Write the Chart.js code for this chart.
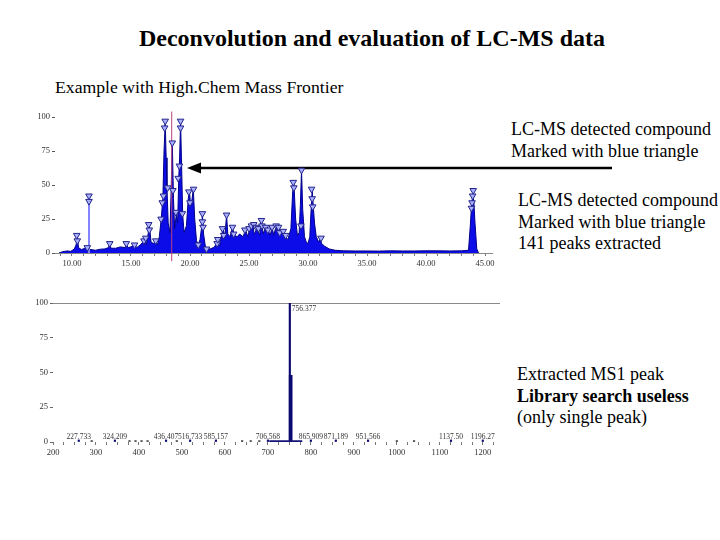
<!DOCTYPE html>
<html>
<head>
<meta charset="utf-8">
<script src="https://cdn.jsdelivr.net/npm/chart.js@4.4.0/dist/chart.umd.min.js"></script>
<style>
  body { margin: 0; background: #fff; width: 720px; height: 540px; position: relative; overflow: hidden;
         font-family: "Liberation Serif", "Times New Roman", serif; }
  .t { position: absolute; white-space: nowrap; color: #000; }
  canvas { position: absolute; }
</style>
</head>
<body>
<div class="t" style="left:0;width:744px;text-align:center;top:25px;font-size:24px;font-weight:bold;line-height:26px">Deconvolution and evaluation of LC-MS data</div>
<div class="t" style="left:55px;top:77px;font-size:17.7px;line-height:21px">Example with High.Chem Mass Frontier</div>
<div class="t" style="left:511px;top:118px;font-size:18px;line-height:22px">LC-MS detected compound<br>Marked with blue triangle</div>
<div class="t" style="left:518px;top:190px;font-size:18px;line-height:21.5px">LC-MS detected compound<br>Marked with blue triangle<br>141 peaks extracted</div>
<div class="t" style="left:517px;top:364px;font-size:18px;line-height:21.5px">Extracted MS1 peak<br><b>Library search useless</b><br>(only single peak)</div>

<svg width="720" height="540" style="position:absolute;left:0;top:0">
  <line x1="199" y1="168" x2="612" y2="168" stroke="#000" stroke-width="2.5"/>
  <polygon points="187,168 201,162.5 201,173.5" fill="#000"/>
</svg>

<canvas id="chrom" width="470" height="180" style="left:30px;top:100px"></canvas>
<canvas id="spec" width="480" height="175" style="left:30px;top:290px"></canvas>

<script>
// chromatogram (retention time in min, relative intensity %)
const chromTime = [
  8.9, 9.2, 9.6, 9.9, 10.2, 10.35, 10.45, 10.55, 10.8, 11.1,
  11.3, 11.38, 11.6, 12.0, 12.4, 12.8, 13.1, 13.2, 13.3, 13.7,
  14.1, 14.5, 14.6, 14.75, 15.0, 15.3, 15.5, 15.8, 16.0, 16.15,
  16.3, 16.45, 16.55, 16.7, 16.9, 17.1, 17.25, 17.4, 17.55, 17.7,
  17.8, 17.9, 17.98, 18.05, 18.15, 18.3, 18.4, 18.5, 18.6, 18.7,
  18.85, 18.95, 19.05, 19.12, 19.2, 19.3, 19.38, 19.5, 19.7, 19.85,
  19.95, 20.05, 20.15, 20.28, 20.4, 20.55, 20.7, 20.85, 21.0, 21.05,
  21.15, 21.3, 21.45, 21.7, 22.0, 22.3, 22.5, 22.65, 22.8, 22.95,
  23.1, 23.2, 23.4, 23.6, 23.75, 24.0, 24.2, 24.5, 24.7, 24.9,
  25.1, 25.3, 25.45, 25.7, 25.9, 26.05, 26.2, 26.4, 26.6, 26.8,
  26.95, 27.1, 27.3, 27.5, 27.65, 27.85, 28.05, 28.3, 28.55, 28.7,
  28.8, 28.95, 29.1, 29.25, 29.35, 29.45, 29.55, 29.7, 29.85, 30.0,
  30.15, 30.25, 30.35, 30.45, 30.55, 30.7, 30.9, 31.05, 31.15, 31.4,
  31.8, 32.3, 33, 34, 35, 36, 37, 38, 39, 40,
  41, 42, 43, 43.6, 43.75, 43.85, 43.95, 44.05, 44.15, 44.3,
  44.45
];
const chromInt = [
  0, 1.0, 1.5, 1.2, 3, 6, 12, 4, 2.5, 3.5,
  5, 2.5, 2.5, 2.0, 2.8, 3.0, 4, 7, 3.5, 3.5,
  4.5, 4, 6.5, 4, 4.5, 6, 4, 6, 8, 10,
  6, 14, 21, 8, 7, 9, 6, 12, 24, 40,
  75, 96, 70, 48, 22, 15, 45, 81, 40, 18,
  29, 22, 56, 70, 97, 60, 28, 15, 20, 40,
  46, 35, 38, 47, 25, 9, 6, 10, 20, 29,
  14, 5, 3, 3, 4, 7, 5, 12, 18, 12,
  28, 14, 12, 19, 13, 12, 14, 12, 17, 12,
  19, 21, 14, 18, 13, 24, 14, 19, 17, 13,
  19, 13, 20, 19, 14, 16, 12, 10, 18, 45,
  52, 25, 13, 15, 35, 61, 32, 12, 8, 7,
  12, 30, 46, 34, 22, 12, 8, 11, 7, 5,
  3, 2, 1.6, 1.5, 1.5, 1.4, 1.6, 1.5, 1.5, 1.6,
  1.6, 1.5, 1.6, 2, 20, 34, 42, 38, 22, 3,
  0
];
// narrow isolated peak drawn in lighter blue
const spikeTime = [11.44, 11.44];
const spikeInt = [0, 38];
// selected scan cursor
const cursorTime = [18.45, 18.45];
const cursorInt = [-6, 104];
// detected compounds (blue triangles)
const markTime = [
  10.4, 10.45, 11.3, 11.44, 11.44, 13.2, 14.6, 15.3, 16.1, 16.25,
  16.5, 16.55, 17.1, 17.55, 17.65, 17.75, 17.85, 17.9, 18.1, 18.45,
  18.5, 18.55, 18.8, 19.0, 19.1, 19.2, 19.2, 19.35, 19.9, 20.0,
  20.3, 20.7, 21.05, 21.05, 21.1, 21.4, 22.3, 22.35, 22.75, 22.85,
  23.1, 23.6, 23.7, 24.65, 25.0, 25.2, 25.4, 25.6, 25.8, 26.05,
  26.1, 26.4, 26.6, 26.95, 27.3, 27.5, 27.6, 27.9, 28.1, 28.75,
  28.8, 29.45, 29.4, 30.3, 30.35, 30.4, 31.1, 43.85, 43.9, 43.95,
  44.0
];
const markInt = [
  13, 9, 4, 42, 38, 7, 7, 6, 9, 11,
  21, 17, 9, 25, 37, 42, 92, 97, 48, 105,
  81, 46, 30, 55, 64, 97, 92, 29, 45, 37,
  47, 6, 29, 23, 19, 3, 7, 10, 18, 13,
  28, 19, 14, 17, 18, 20, 21, 19, 18, 24,
  20, 19, 17, 19, 20, 19, 15, 16, 13, 52,
  48, 61, 20, 47, 40, 34, 11, 33, 37, 42,
  46
];
const timeTicks = [10, 15, 20, 25, 30, 35, 40, 45];
const intTicks = [0, 25, 50, 75, 100];

// MS1 spectrum (m/z, relative intensity %)
const mzValues = [260, 344, 463, 519, 579, 700, 751, 800, 858, 933, 1126, 1200];
const mzInt = [1.5, 1.5, 1.5, 1.5, 1.5, 1.5, 100, 1.5, 1.5, 1.5, 1.5, 1.5];
const mzLabels = ["227.733", "324.209", "436.407", "516.733", "585.157", "706.568",
                  "756.377", "865.909", "871.189", "951.566", "1137.50", "1196.27"];
const isoMz = [753];
const isoInt = [48];
const minorMz = [290, 378, 392, 406, 420, 488, 640, 660, 680, 1000, 1040];
const minorInt = [1, 1, 1, 1, 1, 1, 1, 1, 1, 1, 1];
const noiseMz = [703, 780];
const noiseInt = [0.6, 0.6];
const mzTicks = [200, 300, 400, 500, 600, 700, 800, 900, 1000, 1100, 1200];

const pts = (xs, ys) => xs.map((v, i) => ({ x: v, y: ys[i] }));
const tickFont = { family: 'Liberation Serif', size: 8.5 };

new Chart(document.getElementById('chrom'), {
  type: 'line',
  data: {
    datasets: [
      { data: pts(markTime, markInt), showLine: false, pointStyle: 'triangle', rotation: 180,
        pointRadius: 3.8, backgroundColor: '#a9b0ff', borderColor: '#23238a', borderWidth: 1,
        clip: false, order: 0 },
      { data: pts(cursorTime, cursorInt), borderColor: '#b8407e', borderWidth: 1, pointRadius: 0,
        clip: false, order: 1 },
      { data: pts(spikeTime, spikeInt), borderColor: '#8484ff', borderWidth: 2, pointRadius: 0, order: 2 },
      { data: pts(chromTime, chromInt), borderColor: '#00008a', borderWidth: 1, pointRadius: 0,
        backgroundColor: '#0c0ce8', fill: 'origin', tension: 0, order: 3 }
    ]
  },
  options: {
    responsive: false, animation: false,
    layout: { padding: { left: 0, right: 8, top: 17, bottom: 7 } },
    plugins: { legend: { display: false }, tooltip: { enabled: false } },
    scales: {
      x: {
        type: 'linear', min: 8.56, max: 45.59,
        afterBuildTicks: s => {
          const t = [];
          for (let v = 9; v <= 45; v++) t.push({ value: v });
          s.ticks = t;
        },
        afterFit: s => { s.height = 20; },
        border: { display: true, color: '#8a8a8a' },
        grid: { drawOnChartArea: false, tickLength: 3, tickColor: '#777' },
        ticks: { autoSkip: false, maxRotation: 0, padding: 3, font: tickFont, color: '#333',
                 callback: v => timeTicks.includes(v) ? v.toFixed(2) : '' }
      },
      y: {
        min: 0, max: 100,
        afterBuildTicks: s => { s.ticks = intTicks.map(v => ({ value: v })); },
        afterFit: s => { s.width = 25; },
        border: { display: false },
        grid: { drawOnChartArea: false, tickLength: 3, tickColor: '#555' },
        ticks: { padding: 2, font: tickFont, color: '#333' }
      }
    }
  }
});

const peakLabels = {
  id: 'peakLabels',
  afterDatasetsDraw(chart) {
    const { ctx, scales: { x, y } } = chart;
    ctx.save();
    ctx.font = '7.5px "Liberation Serif"';
    ctx.fillStyle = '#333';
    mzValues.forEach((m, i) => {
      const px = x.getPixelForValue(m), py = y.getPixelForValue(mzInt[i]);
      if (mzInt[i] > 50) {
        ctx.textAlign = 'left'; ctx.textBaseline = 'top';
        ctx.fillText(mzLabels[i], px + 2, py + 2);
      } else {
        ctx.textAlign = 'center'; ctx.textBaseline = 'bottom';
        ctx.fillText(mzLabels[i], px, py + 1);
      }
    });
    ctx.restore();
  }
};

new Chart(document.getElementById('spec'), {
  type: 'bar',
  data: {
    datasets: [
      { data: pts(mzValues, mzInt), backgroundColor: '#0a0a70', barThickness: 1.5, grouped: false, order: 1 },
      { data: pts(isoMz, isoInt), backgroundColor: '#0a0a70', barThickness: 3, grouped: false, order: 2 },
      { data: pts(minorMz, minorInt), backgroundColor: '#333', barThickness: 1.5, grouped: false, order: 3 },
      { type: 'line', data: pts(noiseMz, noiseInt), borderColor: '#141478', borderWidth: 2,
        pointRadius: 0, order: 0 }
    ]
  },
  options: {
    responsive: false, animation: false,
    layout: { padding: { left: 0, right: 10, top: 13, bottom: 5 } },
    plugins: { legend: { display: false }, tooltip: { enabled: false } },
    scales: {
      x: {
        type: 'linear', min: 200, max: 1240, offset: false,
        afterBuildTicks: s => {
          const t = [];
          for (let v = 200; v <= 1225; v += 25) t.push({ value: v });
          s.ticks = t;
        },
        afterFit: s => { s.height = 18; },
        border: { display: false },
        grid: { offset: false, drawOnChartArea: false, tickLength: 3, tickColor: '#777' },
        ticks: { autoSkip: false, maxRotation: 0, padding: 3, font: tickFont, color: '#333',
                 callback: v => mzTicks.includes(v) ? String(v) : '' }
      },
      y: {
        min: 0, max: 100,
        afterBuildTicks: s => { s.ticks = intTicks.map(v => ({ value: v })); },
        afterFit: s => { s.width = 23; },
        border: { display: false },
        grid: { tickLength: 3, tickColor: '#666',
                color: c => c.tick && c.tick.value === 100 ? '#8a8a8a' : 'rgba(0,0,0,0)' },
        ticks: { padding: 2, font: tickFont, color: '#333' }
      }
    }
  },
  plugins: [peakLabels]
});
</script>
</body>
</html>
